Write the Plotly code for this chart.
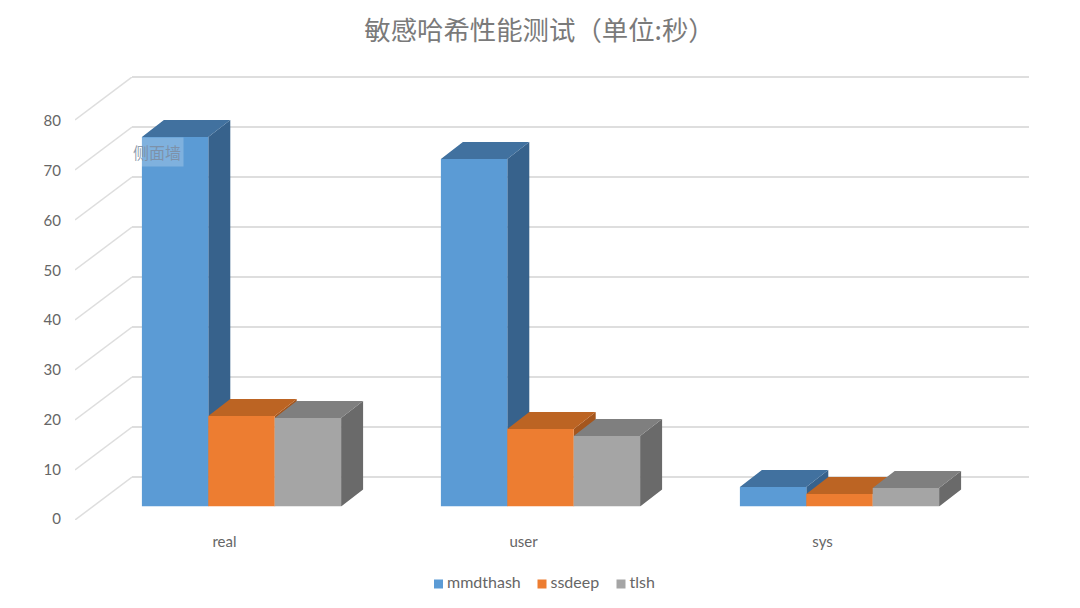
import plotly.graph_objects as go

categories = ["real", "user", "sys"]
positions = [0, 1, 2]
series_names = ["mmdthash", "ssdeep", "tlsh"]
mmdthash = [73.9, 69.5, 3.9]
ssdeep = [18.1, 15.5, 2.5]
tlsh = [17.7, 14.1, 3.7]
y_ticks = [0, 10, 20, 30, 40, 50, 60, 70, 80]

front_colors = ["#5B9BD5", "#ED7D31", "#A5A5A5"]
top_colors = ["#41719F", "#BC6423", "#7F7F7F"]
side_colors = ["#37628C", "#A4561E", "#6A6A6A"]

# the page body has an 8px margin, so the figure is 8px smaller each way
OFF = 8
W, H = 1080 - OFF, 608 - OFF
text_color = "#666666"
grid_color = "#DEDEDE"
ui_font = "Lato"

# bar size and depth, in axis units (299px per category, 5px per value)
bar_w = 66.4 / 299
depth_x = 22 / 299
depth_y = 17 / 5

# swatch centres of the hand placed legend
legend_x = [438.5, 542, 621]


def xdom(a, b):
    return [(a - OFF) / W, (b - OFF) / W]


def ydom(bottom, top):
    return [(H - (bottom - OFF)) / H, (H - (top - OFF)) / H]


fig = go.Figure()

# only there so the front axes (tick labels) get drawn
fig.add_trace(go.Scatter(x=positions, y=[0, 0, 0], mode="lines", line=dict(width=0),
                         showlegend=False, hoverinfo="skip"))

# diagonal lines of the side wall
diag_x = []
diag_y = []
for t in y_ticks:
    diag_x += [0, 1, None]
    diag_y += [t - 43 / 5, t, None]
fig.add_trace(go.Scatter(x=diag_x, y=diag_y, mode="lines", xaxis="x4", yaxis="y4",
                         line=dict(color=grid_color, width=1.5), cliponaxis=False,
                         showlegend=False, hoverinfo="skip"))

# back wall needs a trace as well for its grid
fig.add_trace(go.Scatter(x=positions, y=[0, 0, 0], mode="lines", xaxis="x2", yaxis="y2",
                         line=dict(width=0), showlegend=False, hoverinfo="skip"))

all_values = [mmdthash, ssdeep, tlsh]
for i, values in enumerate(all_values):
    side_x, side_y, top_x, top_y = [], [], [], []
    for p, v in zip(positions, values):
        left = p - 1.5 * bar_w + i * bar_w
        right = left + bar_w
        side_x += [right, right + depth_x, right + depth_x, right, right, None]
        side_y += [0, depth_y, v + depth_y, v, 0, None]
        top_x += [left, left + depth_x, right + depth_x, right, left, None]
        top_y += [v, v + depth_y, v + depth_y, v, v, None]
    fig.add_trace(go.Scatter(x=side_x, y=side_y, mode="lines", fill="toself", xaxis="x3", yaxis="y3",
                             fillcolor=side_colors[i], line=dict(width=0), cliponaxis=False,
                             showlegend=False, hoverinfo="skip"))
    fig.add_trace(go.Scatter(x=top_x, y=top_y, mode="lines", fill="toself", xaxis="x3", yaxis="y3",
                             fillcolor=top_colors[i], line=dict(width=0), cliponaxis=False,
                             showlegend=False, hoverinfo="skip"))

for i, values in enumerate(all_values):
    fig.add_trace(go.Bar(x=positions, y=values, name=series_names[i], xaxis="x3", yaxis="y3",
                         width=bar_w, offset=-1.5 * bar_w + i * bar_w, showlegend=False,
                         marker=dict(color=front_colors[i], line=dict(width=0)), zorder=5))

# legend: swatch sits much closer to its text than plotly's own legend allows
for i, name in enumerate(series_names):
    fig.add_trace(go.Scatter(x=[legend_x[i]], y=[584], mode="markers+text", xaxis="x5", yaxis="y5",
                             marker=dict(symbol="square", size=12, color=front_colors[i],
                                         line=dict(width=3, color="white")),
                             text=[name], textposition="middle right",
                             textfont=dict(family=ui_font, size=16, color=text_color),
                             showlegend=False, hoverinfo="skip", cliponaxis=False))

fig.update_layout(
    width=W, height=H, autosize=False,
    margin=dict(l=0, r=0, t=0, b=0),
    paper_bgcolor="white", plot_bgcolor="rgba(0,0,0,0)",
    title=dict(text="敏感哈希性能测试（单位:秒）", x=531.5 / W, y=1 - 23 / H, xanchor="center", yanchor="middle",
               font=dict(family="Noto Sans CJK SC", size=26.4, color="#7A7A7A")),
    font=dict(family=ui_font, size=15, color=text_color),
    showlegend=False,
    xaxis=dict(domain=xdom(75, 972), range=[-0.5, 2.5], tickmode="array", tickvals=positions, ticktext=categories,
               showgrid=False, zeroline=False, showline=False, ticks="", ticklabelstandoff=12, anchor="y",
               automargin=False),
    yaxis=dict(domain=ydom(519, 121), range=[0, 80], tickvals=y_ticks, showgrid=False, zeroline=False,
               showline=False, ticks="", ticklabelstandoff=13, anchor="x", automargin=False),
    xaxis2=dict(domain=xdom(132, 1029), range=[-0.5, 2.5], visible=False, anchor="y2", automargin=False),
    yaxis2=dict(domain=ydom(482, 72), range=[-1, 81], tickvals=y_ticks, showticklabels=False, ticks="",
                showgrid=True, gridcolor=grid_color, gridwidth=1.5, zeroline=False, showline=False, anchor="x2",
                automargin=False),
    xaxis3=dict(domain=xdom(92, 989), range=[-0.5, 2.5], visible=False, anchor="y3", automargin=False),
    yaxis3=dict(domain=ydom(506.5, 106.5), range=[0, 80], visible=False, anchor="x3", automargin=False),
    xaxis4=dict(domain=xdom(75, 132), range=[0, 1], visible=False, anchor="y4", automargin=False),
    yaxis4=dict(domain=ydom(520, 77), range=[-8.6, 80], visible=False, anchor="x4", automargin=False),
    xaxis5=dict(domain=xdom(420, 680), range=[420, 680], visible=False, anchor="y5", automargin=False),
    yaxis5=dict(domain=ydom(600, 570), range=[600, 570], visible=False, anchor="x5", automargin=False),
    barmode="overlay",
    annotations=[dict(text="侧面墙", xref="paper", yref="paper", x=(157 - OFF) / W, y=1 - (152 - OFF) / H,
                      xanchor="center", yanchor="middle", showarrow=False,
                      font=dict(family="Noto Sans CJK SC", size=16, color="rgba(125,140,160,0.85)"),
                      bgcolor="rgba(255,255,255,0.22)", borderpad=2)],
)

fig.write_html("out.html")
